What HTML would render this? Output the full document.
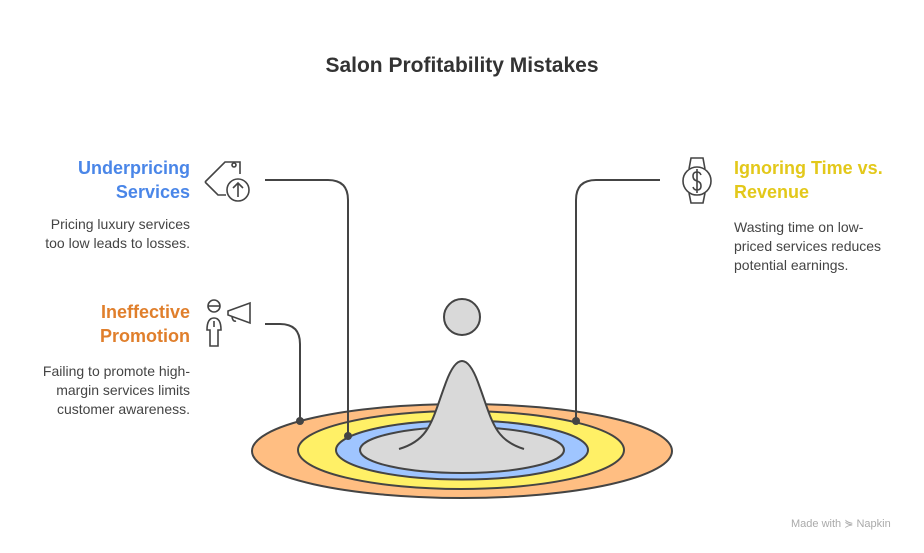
<!DOCTYPE html>
<html><head><meta charset="utf-8"><style>
body{margin:0;width:924px;height:553px;background:#fff;font-family:"Liberation Sans",Arial,sans-serif;position:relative;overflow:hidden}
.t{position:absolute;font-weight:bold;font-size:18px;line-height:24px}
.b{position:absolute;font-size:14px;line-height:19px;color:#444}
.r{text-align:right}
</style></head><body>
<div style="position:absolute;left:0;width:924px;top:54px;text-align:center;font-size:21px;font-weight:bold;color:#333">Salon Profitability Mistakes</div>
<div class="t r" style="right:734px;top:156px;color:#4a86e8">Underpricing<br>Services</div>
<div class="b r" style="right:734px;top:215px">Pricing luxury services<br>too low leads to losses.</div>
<div class="t r" style="right:734px;top:300px;color:#e07f2c">Ineffective<br>Promotion</div>
<div class="b r" style="right:734px;top:362px">Failing to promote high-<br>margin services limits<br>customer awareness.</div>
<div class="t" style="left:734px;top:156px;color:#e3c81a">Ignoring Time vs.<br>Revenue</div>
<div class="b" style="left:734px;top:218px">Wasting time on low-<br>priced services reduces<br>potential earnings.</div>
<div style="position:absolute;left:791px;top:517px;font-size:11px;color:#aaa">Made with ⋟ Napkin</div>
<svg width="924" height="553" style="position:absolute;left:0;top:0" fill="none" stroke="#444" stroke-width="2">
<ellipse cx="462" cy="451" rx="210" ry="47" fill="#ffbe82"/>
<ellipse cx="461" cy="450" rx="163" ry="39" fill="#fff066"/>
<ellipse cx="462" cy="450" rx="126" ry="29.5" fill="#9fc5ff"/>
<ellipse cx="462" cy="450" rx="102" ry="23" fill="#d9d9d9"/>
<path d="M399 449 C430 440 432 420 445 385 C452 365 458 361 462 361 C466 361 472 365 479 385 C492 420 494 440 524 449" fill="#d9d9d9"/>
<circle cx="462" cy="317" r="18" fill="#d9d9d9"/>
<path d="M265 324 H280 Q300 324 300 344 V421"/>
<path d="M265 180 H328 Q348 180 348 200 V436"/>
<path d="M660 180 H596 Q576 180 576 200 V421"/>
<g fill="#444" stroke="none"><circle cx="300" cy="421" r="4"/><circle cx="348" cy="436" r="4"/><circle cx="576" cy="421" r="4"/></g>
<g stroke-width="1.6">
<path d="M205 182 L225 162 H240 V174 M205 182 L218 195 H226"/>
<circle cx="234" cy="165" r="2"/>
<circle cx="238" cy="190" r="11"/><path d="M238 197 V184 M233 188 L238 183 L243 188"/>
<circle cx="214" cy="306" r="6"/><path d="M208 306 H220"/>
<path d="M207 330 Q207 318 214 318 Q221 318 221 330 H218 V346 H210 V330 Z M214 321 V327"/>
<path d="M228 311 L250 303 V323 L228 315 Z M232 317 Q233 322 236 321"/>
<circle cx="697" cy="181" r="14"/><path d="M689 169 L691 158 H703 L705 169 M689 193 L691 203 H703 L705 193"/>
<path d="M701 175 Q700 172 697 172 Q693 172 693 176 Q693 180 697 181 Q701 182 701 186 Q701 190 697 190 Q694 190 693 187 M697 169 V193"/>
</g>
</svg>
</body></html>
